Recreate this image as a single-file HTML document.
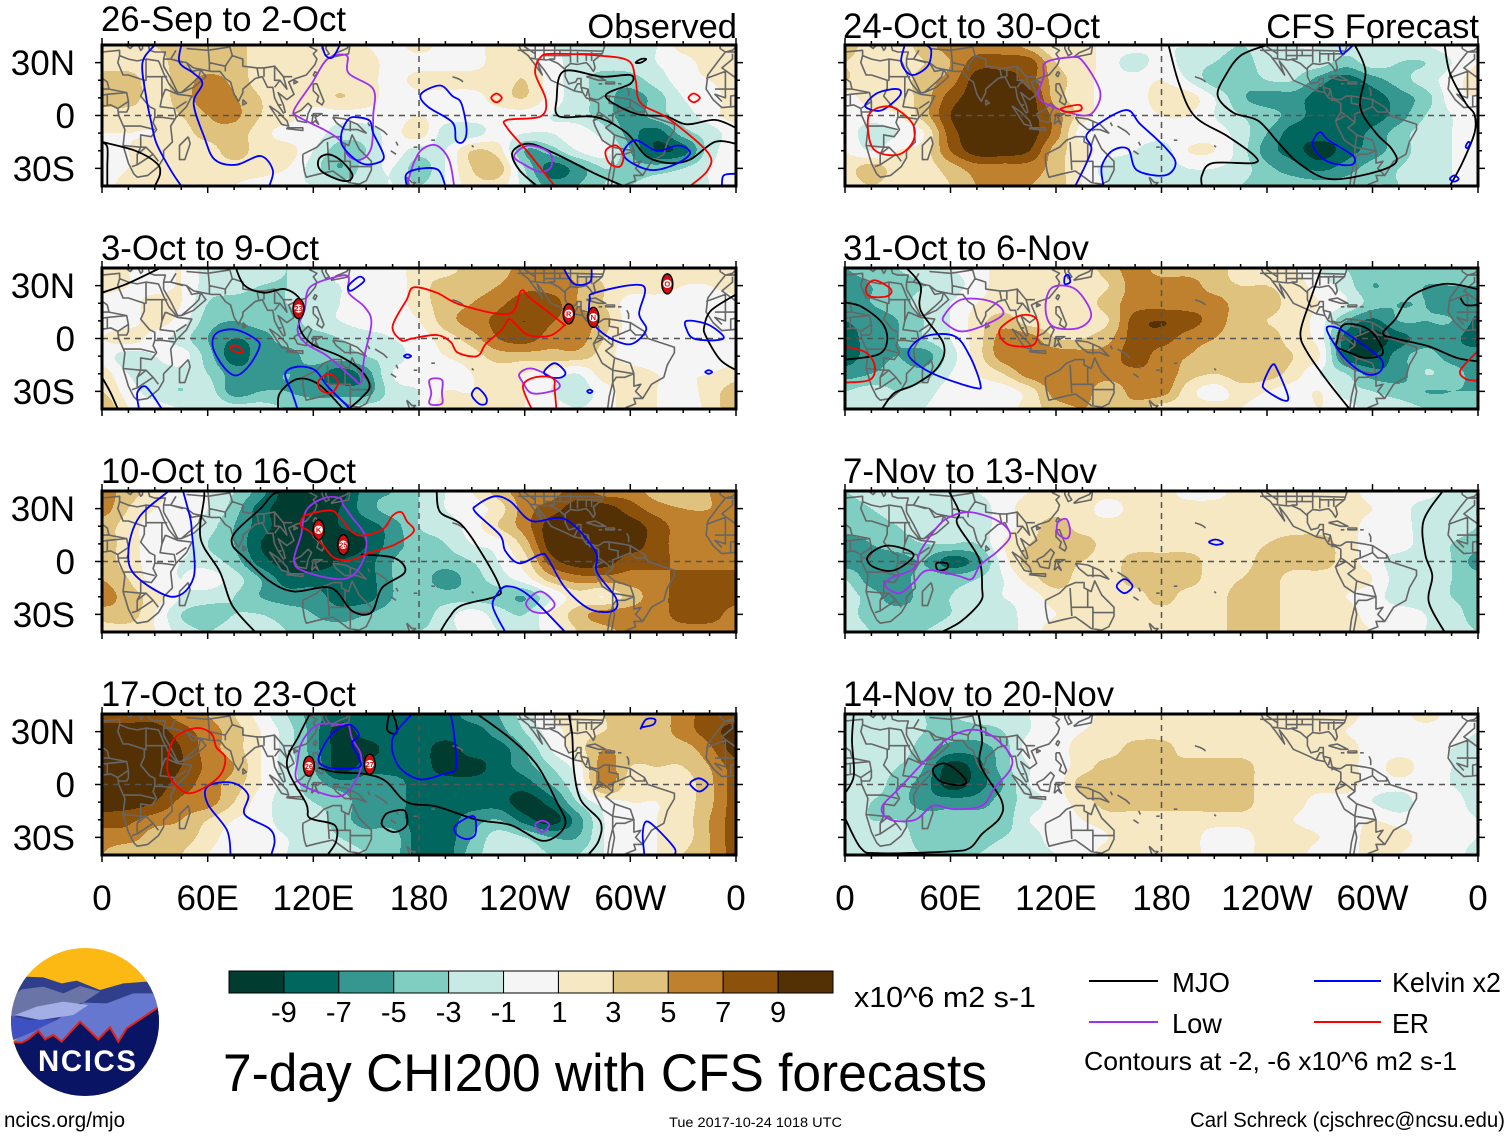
<!DOCTYPE html>
<html lang="en">
<head>
<meta charset="utf-8">
<title>7-day CHI200 with CFS forecasts</title>
<style>
html,body{margin:0;padding:0;background:#fff;}
svg{display:block;}
text{font-family:"Liberation Sans",sans-serif;fill:#000;}
</style>
</head>
<body>
<svg id="chart" xmlns="http://www.w3.org/2000/svg" width="1510" height="1137" viewBox="0 0 1510 1137">
  <g id="panels"></g>
  <g id="colorbar"></g>
  <g transform="translate(0,940) scale(0.3333)">
    <clipPath id="logoClip"><circle cx="255" cy="246" r="222"/></clipPath>
    <g clip-path="url(#logoClip)">
      <rect x="20" y="10" width="480" height="480" fill="#fdb913"/>
      <path d="M60,130 L75,110 L130,112 L185,130 L230,122 L300,150 L370,130 L440,125 L490,170 L490,260 L20,260 Z" fill="#2f3f8c"/>
      <path d="M20,180 L65,148 L130,140 L190,160 L240,138 L300,155 L250,188 L120,210 L20,235 Z" fill="#6a74a6"/>
      <path d="M250,188 L320,190 L400,160 L470,160 L490,310 L20,320 L60,290 L170,240 Z" fill="#6577cf"/>
      <path d="M45,225 L110,200 L190,185 L265,195 L220,225 L120,240 Z" fill="#a3aee6"/>
      <path d="M20,225 L90,240 L170,238 L100,275 L40,300 L20,300 Z" fill="#3f50c0"/>
      <path d="M20,305 L65,308 L85,298 L115,272 L135,298 L160,285 L185,305 L240,245 L295,298 L330,262 L355,305 L380,265 L470,205 L500,195 L500,490 L20,490 Z" fill="#0a1464" stroke="#e2231a" stroke-width="6"/>
    </g>
    <text x="114" y="393" font-size="88" font-weight="bold" textLength="294" lengthAdjust="spacing" style="fill:#fff">NCICS</text>
  </g>
  <text x="4" y="1127" font-size="21" textLength="121" lengthAdjust="spacingAndGlyphs">ncics.org/mjo</text>
  <text x="223" y="1091" font-size="53" textLength="764" lengthAdjust="spacingAndGlyphs">7-day CHI200 with CFS forecasts</text>
  <text x="854" y="1007" font-size="29" textLength="182" lengthAdjust="spacingAndGlyphs">x10^6 m2 s-1</text>
  <text x="669" y="1127" font-size="14" textLength="173" lengthAdjust="spacingAndGlyphs">Tue 2017-10-24 1018 UTC</text>
  <text x="1190" y="1127" font-size="21" textLength="315" lengthAdjust="spacingAndGlyphs">Carl Schreck (cjschrec@ncsu.edu)</text>
  <g>
    <line x1="1089" y1="981" x2="1158" y2="981" stroke="#000" stroke-width="2"/>
    <text x="1172" y="992" font-size="28" textLength="58" lengthAdjust="spacingAndGlyphs">MJO</text>
    <line x1="1314" y1="981" x2="1381" y2="981" stroke="#0000ff" stroke-width="2"/>
    <text x="1392" y="992" font-size="28" textLength="109" lengthAdjust="spacingAndGlyphs">Kelvin x2</text>
    <line x1="1089" y1="1022" x2="1158" y2="1022" stroke="#a030f0" stroke-width="2"/>
    <text x="1172" y="1033" font-size="28" textLength="50" lengthAdjust="spacingAndGlyphs">Low</text>
    <line x1="1314" y1="1022" x2="1381" y2="1022" stroke="#ff0000" stroke-width="2"/>
    <text x="1392" y="1033" font-size="28" textLength="37" lengthAdjust="spacingAndGlyphs">ER</text>
    <text x="1084" y="1070" font-size="26" textLength="373" lengthAdjust="spacingAndGlyphs">Contours at -2, -6 x10^6 m2 s-1</text>
  </g>
</svg>
<script>
/* ---------- scales and labels ---------- */
const bandColors = ['#003c30','#01665e','#35978f','#80cdc1','#c7eae5','#f5f5f5','#f6e8c3','#dfc27d','#bf812d','#8c510a','#543005'];
const colorbarTicks = ['-9','-7','-5','-3','-1','1','3','5','7','9'];
const lonTickValues = [0,60,120,180,240,300,360];
const lonTickLabels = ['0','60E','120E','180','120W','60W','0'];
const latTickValues = [30,0,-30];
const latTickLabels = ['30N','0','30S'];

/* ---------- CHI200 anomaly, rows 40N..40S every 10 deg, columns 0..360 every 15 deg ---------- */
const panel1Values = [
[2,2,3,4,4,4,2,2,2,2,1,0,2,0,0,2,1,-1,-1,-1,-2,-1,2,2,2],
[2,2,2,4,4,4,2,2,2,2,2,0,0,0,0,2,2,0,-2,-2,-2,-1,0,2,2],
[4,4,2,4,5.5,4.5,2,2,2,2,2,0,2,2,2,2,3,0,-2,-4,-4,-2,0,1,2],
[4,4,2,4,6,5.2,3,2,2,3,2,0,0,0,0,2,3,0,-2,-4,-6,-4,-1,0,2],
[2,2,2,3,5,5.5,3,2,0,0,0,0,1,0,0,0,0,-1,-2,-4,-6,-4,-2,0,2],
[1,1,1,2,4,4,2,0,0,-2,-2,0,2,-2,-2,0,-1,-1,0,-2,-6,-8,-4,-2,0],
[0,1,2,2,2,4,2,2,-1,-4,-3,0,-2,-1,3,2,-5,-4,-1,0,-5,-9,-8,-2,0],
[0,1,2,2,2,2,2,1,-2,-5,-2,-1,-4,-1,3,4,-3,-8,-6,-3,-4,-4,-3,-1,0],
[0,2,2,1,1,1,0,-1,-1,-2,-2,-1,-3,-1,2,2,-2,-6,-5,-3,-3,-2,-2,-1,0]];
const panel2Values = [
[3,1,0,1,-2,-2,-2,-3,-2,0,0,0,2,2,4,4,6,6,4,2,2,2,2,2,3],
[2,1,0,1,-2,-2,-3,-3,-2,-1,0,0,2,4,4,5,6.5,6,5,3,2,2,1,1,2],
[0,0,2,1,-3,-4,-4,-3,-2,-1,0,0,2,4,5,6.5,8,8,5,3,0,0,0,0,0],
[0,0,2,0,-4,-5,-4,-4,-2,-1,0,0,1,4,6,7.5,9,7.2,6,4,0,0,0,0,0],
[1,2,0,-2,-5,-7,-6,-4,-4,-3,-2,-1,0,2,4,7,8,6,6,3,0,0,0,0,0],
[0,-2,-1,0,-4,-8,-6,-6,-4,-4,-3,-2,0,1,2,4,4,4,4,2,0,0,0,0,0],
[2,-1,-2,-2,-3,-6,-6,-5,-6,-8,-6,-1,0,0,1,2,1,0,-1,2,2,1,1,1,2],
[3,0,-2,-3,-2,-6,-5,-5,-6,-6,-6,-2,-1,1,1,3,1,-1,-2,0,2,1,0,2,4],
[5,1,0,-1,-1,-2,-2,-3,-3,-3,-2,-2,-1,2,2,2,1,0,-1,0,2,1,-1,2,4]];
const panel3Values = [
[6,4,2,0,-1,-3,-6,-10,-10,-10,-6,-5,-3,-1,1,4,6,6,8,6,6,4,3,5,6],
[6,3,1,0,-1,-4,-8,-10,-10,-9,-6,-4,-3,-1,0,2,6,8,10,10,8,6,5,5,6],
[4,2,0,0,-2,-5,-8,-10,-10,-9,-8,-6,-3,-2,0,3,6,10,10,10,10,8,6,6,6],
[4,2,0,0,-3,-5,-9,-10,-10,-10,-9,-6,-4,-3,-1,0,4,10,10,10,10,8,6,6,6],
[4,2,0,-1,-2,-4,-8,-10,-10,-9,-8,-5,-4,-4,-3,-1,2,8,10,10,8,8,6,6,6],
[5,3,0,-1,0,-2,-5,-8,-8,-8,-8,-5,-4,-6,-4,-2,0,4,6,6,6,6,8,8,8],
[6,4,2,-1,-2,-3,-5,-6,-6,-8,-8,-5,-4,-4,-4,-4,-5,-1,2,1,4,6,8,8,8],
[4,4,1,-3,-4,-3,-3,-4,-5,-6,-5,-4,-4,-2,0,-2,-3,1,4,6,6,6,8,8,6],
[2,2,1,-2,-3,-2,-2,-3,-4,-4,-4,-3,-3,-2,0,-1,-2,0,3,4,6,6,6,6,6]];
const panel4Values = [
[8,8,8,6,5,3,0,-3,-6,-8,-8,-8,-8,-8,-6,-5,-2,1,2,3,4,4,6,8,8],
[10,10,10,8,6,4,1,-2,-6,-10,-8,-8,-8,-8,-8,-6,-3,0,2,3,4,4,6,8,10],
[10,10,10,9,6,4,1,-2,-6,-10,-10,-8,-8,-10,-8,-8,-5,-1,2,5,4,4,4,6.5,10],
[10,10,10,9,6.5,5,1,-2,-5,-10,-8,-8,-8,-10,-10,-8,-6,-3,0,6,3,3,3,5,8],
[10,10,10,8,6,4,1,-2,-4,-6,-6,-6,-8,-8,-8,-8,-8,-5,-1,6,2,2,2,4.5,8],
[10,10,9,6.5,6,3,0,-2,-3,-4,-6,-6,-8,-8,-8,-8,-10,-8,-3,0,1,1,2,4.5,8],
[8,7.5,6,5,3,1,0,-2,-2,-4,-6,-6,-8,-8,-6,-5,-8,-10,-6,-1,0,1,2,5,8],
[6,6,4,4,2,0,0,-1,-2,-3,-4,-4,-8,-8,-5,-2,-3,-5,-5,-1,0,1,2,5,8],
[5,3,4,3,1,0,0,-1,-2,-2,-3,-4,-8,-8,-4,-2,-2,-3,-3,-1,0,1,3,5,8]];
const panel5Values = [
[4,2,2,4,6,6,6,4,1,2,0,0,-1,-1,-2,-3,-2,-1,-1,-2,-2,-2,-1,0,1],
[3,2,2,3,5,8,8,8,3,2,0,-2,0,-2,-3,-4,-2,-2,-2,-4,-2,-3,-3,-1,1],
[3,2,2,4,6,10,10,8,4,2,0,0,1,-1,-4,-4.5,-3,-3,-6,-8,-6,-4,-2,0,2],
[0,2,2,4,8,10,10,10,4,2,0,0,2,2,-1,-4.5,-6,-6,-8,-8,-8,-6,-4,0,1],
[0,0,1,4,9,10,10,10,6,2,0,0,1,1,-1,-3,-4,-6,-8,-8,-8,-6,-3,-1,0],
[0,-2,-1,1,8,10,10,10,6,0,0,0,0,0,0,-2,-5,-8,-8,-8,-6.5,-4,-2,-1,0],
[1,-1,1,2,7,10,10,9,4,2,0,-1,-2,1,1,-2,-6,-8,-10,-8,-6,-4,-2,-1,0],
[2,4,2,2,4,6,6,6,4,1,-2,-2,-2,-1,-1,-2,-4.5,-6,-7.5,-6,-4,-3,-2,-1,0],
[2,3,2,2,3,5,5,5,4,1,-1,-2,-2,-2,-2,-3,-4,-4,-4,-4,-3,-3,-2,-1,-1]];
const panel6Values = [
[-5,-4,-3,-2,-1,0,2,2,2,2,4,6,4,4,4,2,2,1,-1,-3,-4,-4,-4,-4,-5],
[-6,-5,-4,-3,-2,0,2,2,2,2,3,6,6,6,4,3,3,2,0,-2,-5,-4,-5,-5,-5],
[-6,-5,-4,-2,-1,1,2,2,2,2,4,6,6,6,6,4,4,2,1,-1,-4,-5,-5,-6,-6],
[-7,-6,-5,-3,-1,2,4,2,2,2,3,8,9,8,6,4,3,2,0,-5,-7.5,-5,-5,-5,-7.5],
[-8,-6,-5,-3,-1,2,6,6,3,3,4.5,8,8,6,5,4,4,2,0,-8,-10,-8,-6,-6.5,-8],
[-8,-6,-5,-6,-2,2,6,6.5,6.5,6,6,8,6,5,4,4,4,3,1,-8,-9,-6,-4,-6,-6],
[-6,-5,-4,-4,-1,1,3,6,6.5,6,6,6.5,6.5,4,3,4,4,2,-1,-3,-6,-6,-3,-4,-6],
[-3,-2,-3,-2,0,0,0,2,6,6,3.5,6,6,2,0,2,1,0,1,-2,-3,-4,-5,-5,-5],
[-2,-1,-2,-1,0,0,0,2,4,5,4,4,2,2,2,1,0,0,1,0,-2,-2,-3,-4,-4]];
const panel7Values = [
[-3,-2,-2,-2,-2,-1,0,1,2,2,2,2,2,0,0,2,2,2,2,2,0,0,0,-2,-2],
[-4,-3,-2,-2,-2,-2,0,2,2,2,0,2,2,2,2,2,2,2,2,2,1,0,-2,-2,-3],
[-4,-4,-3,-2,-2,-2,0,2,4,2,2,2,2,2,2,2,2,2,2,2,0,0,-2,-2,-3],
[-6,-5,-4,-3,-3,-3,1,3,4,4,2,2,2,2,2,2,3,4,4,2,0,0,-2,-3,-4],
[-6,-6,-6,-5,-8,-6,0,4,4,3,2,4,4,4,2,2,4,4,4,2,0,-2,-2,-3,-6],
[-3,-6,-6,-4,-4,-3,-1,2,4,2,2,4,4,4,2,3,4,2,2,2,1,-2,-2,-3,-4],
[-2,-4,-6,-4,-3,-2,-1,0,2,2,2,2,4,2,2,4,4,2,2,1,0,-2,-2,-3,-4],
[-2,-4,-4,-4,-3,-2,-2,0,1,2,2,2,2,2,2,4,4,2,2,2,0,0,-1,-2,-4],
[-1,-3,-3,-3,-2,-2,-2,0,2,2,2,2,2,2,2,4,4,2,2,2,1,0,-1,-2,-3]];
const panel8Values = [
[-2,-2,-2,-3,-3,-2,-2,-1,0,0,2,2,2,2,2,2,2,2,2,2,0,0,2,0,-1],
[-2,-2,-2,-3,-4,-4,-3,-1,0,1,2,2,2,2,2,2,2,2,2,1,0,0,0,0,-1],
[-2,-2,-2,-4,-6,-6,-4,0,0,2,2,4,4,2,2,2,2,2,2,2,0,0,0,-1,-2],
[-2,-2,-3,-5,-10,-8,-4,-1,0,2,4,4,3,4,4,4,2,2,2,2,0,2,0,-1,-2],
[-2,-2,-4,-6,-10,-8,-5,-1,0,4,4,4,4,4,4,4,2,2,2,2,0,0,0,-1,-2],
[-2,-3,-4,-6,-6,-6,-4,-2,0,2,4,4,4,4,4,4,2,2,0,0,-1,-2,0,0,-2],
[-2,-3,-3,-4,-4,-4,-4,-1,0,1,2,2,2,2,2,2,2,1,0,0,1,0,0,0,-1],
[-2,-2,-2,-4,-4,-4,-3,-2,0,0,1,2,2,2,0,0,2,2,1,0,2,2,0,0,-1],
[-2,-1,-2,-3,-3,-3,-2,-2,-1,0,2,2,2,2,0,0,2,2,0,0,2,1,0,0,-2]];

/* ---------- contours, [lon,lat] ---------- */
const panel1Mjo = [
[[0,-15],[19,-20],[31,-27],[33,-33],[30,-40]],
[[3,-40],[3,-29],[3,-18],[0,-15]],
[[123,-25],[128,-22],[135,-25],[142,-33],[140,-37],[133,-36],[124,-31]],
[[360,-7],[348,-2.5],[332,-5],[320,-0.5],[303,1],[286,11],[300,18],[300,23],[284,22],[262,25],[258,8],[258,1],[263,-1],[281,-1],[298,-10],[309,-23],[322,-27],[334,-25],[348,-15],[360,-16]],
[[296,-40],[280,-33],[256,-21],[242,-16],[233,-21],[237,-31],[247,-40]],
[[303,30],[306,32],[309,32],[306,30]]];
const panel1Low = [
[[139,34],[140,24],[154,15],[154,0],[153,-18],[147,-25],[140,-23],[135,-14],[126,-8],[112,-1],[109,3],[119,18],[128,32]],
[[173,-40],[177,-27],[182,-19],[190,-17],[197,-25],[200,-40]],
[[234,-23],[242,-17],[254,-21],[255,-29],[249,-32],[240,-28]]];
const panel1Kelvin = [
[[30,40],[23,30],[25,11],[28,-4],[31,-16],[39,-31],[45,-40]],
[[45,40],[44,30],[52,24],[57,18],[52,7],[58,-12],[64,-25],[76,-28],[90,-23],[97,-31],[95,-40]],
[[125,40],[127,34],[131,33],[135,40]],
[[145,-1],[152,-3],[154,-10],[160,-23],[156,-27],[147,-27],[137,-18],[136,-10],[140,-2]],
[[192,17],[181,12],[185,5],[199,-4],[201,-14],[205,-15],[207,-8],[204,7],[199,11]],
[[173,-40],[173,-33],[182,-30],[191,-31],[195,-40]],
[[296,-21],[303,-14],[315,-20],[327,-17],[334,-21],[327,-27],[313,-31],[301,-27]],
[[352,-40],[353,-34],[360,-33]]];
const panel1Er = [
[[221,10],[224,12.5],[227,10],[224,7.5]],
[[257,-40],[242,-21],[230,-7],[230,-2.5],[249,-0.5],[252,9],[246,24],[249,33],[256,35],[282,34],[299,31],[303,20],[306,7],[322,-2],[344,-21],[344,-31],[334,-40]],
[[333,10],[336,12.5],[339.5,10],[336,7.5]],
[[286,-20],[292,-17],[296,-23],[294,-29],[288,-27]]];

const panel2Mjo = [
[[0,26],[14,31],[33,40]],
[[76,40],[81,30],[92,26],[104,28],[113,21],[112,7],[119,-3],[135,-10],[147,-18],[152,-27],[147,-34],[140,-40]],
[[100,-40],[101,-31],[111,-23],[123,-26],[137,-40]],
[[0,-22],[5,-31],[9,-40]],
[[360,25],[346,16],[342,7],[343,1],[351,-12],[360,-18]]];
const panel2Low = [
[[140,35],[133,35],[118,29],[115,16],[111,5],[116,-3],[128,-10],[142,-22],[147,-25],[149,-10],[153,9],[149,18],[140,26]],
[[186,-23.5],[193,-23.5],[193,-31],[193,-37],[186,-37],[187,-31]],
[[237,-20],[244,-17],[256,-22.5],[260,-27],[255,-30],[244,-31],[239,-25]]];
const panel2Kelvin = [
[[140,30],[146,35],[149,33],[146,30],[141,27]],
[[76,5],[88,-1],[89,-6],[83,-16],[76,-21],[69,-16],[63,-5],[65,3]],
[[21,-40],[20,-31],[24,-27],[28,-31],[34,-40]],
[[141,-40],[128,-27],[121,-18],[111,-16],[104,-20],[108,-31],[111,-40]],
[[277,22],[280,26],[307,30],[305,14],[309,5],[301,-3],[291,-1],[282,5],[277,12]],
[[262,40],[268,31],[277,32],[278,40]],
[[332,10],[344,8],[353,1],[348,-1],[336,0],[332,5]],
[[171.5,-10],[173.5,-9],[175.5,-10],[173.5,-11]],
[[342.5,-19],[344.5,-18],[346.5,-19],[344.5,-20]],
[[275.5,-30],[277,-29],[278.5,-30],[277,-31]],
[[213,-28],[218,-33],[218,-37],[214,-37],[210,-32]],
[[251,-19],[257,-14],[263,-19],[261,-22],[255,-22]]];
const panel2Er = [
[[73.5,-4.5],[76,-4],[80,-7],[77,-8],[73,-6]],
[[129,-20],[134,-25],[130,-31],[124,-29],[123,-24]],
[[177,29],[190,26],[204,19],[231,14],[238,27],[243,23],[261,9],[262,7],[254,1.5],[242,2],[235,8],[231,11],[227,5],[218,-3],[213,-10],[202,-8],[198,-2],[190,2],[176,0],[170,-1],[165,7],[173,22]],
[[244,-40],[239,-27],[246,-22],[256,-22.5],[257,-29],[258,-40]]];
const panel2Storms = [[111.6,17,'23'],[265,14,'R'],[279,12,'N'],[321,31,'O']];

const panel3Mjo = [
[[58,40],[58,36],[56,13],[67,-6],[74,-25],[87,-40]],
[[104,40],[97,38],[90,30],[76,17],[74,9.5],[81,2],[95,-11],[109,-17],[130,-15],[142,-28],[153,-29],[159,-15],[172,-6],[166,2],[147,4]],
[[190,40],[192,28],[204,21],[216,4],[226,-15],[223,-20],[204,-25],[197,-32],[192,-40]]];
const panel3Low = [
[[135,36],[126,36],[116,29],[113,15],[109,0],[116,-6],[137,-10],[147,-2],[150,13],[142,25],[137,32]],
[[241,-23],[249,-17],[257,-24],[252,-29],[244,-28]]];
const panel3Kelvin = [
[[38,40],[21,25],[15,6],[19,-8],[40,-20],[52,-9],[51,17],[50,25],[46,40]],
[[229,-40],[222,-26],[224,-19],[230,-14],[242,-19],[263,-40]],
[[213,32],[223,37],[232,34],[244,23],[263,24],[280,6],[281,-6],[292,-21],[290,-28],[277,-27],[263,-15],[253,2],[249,4],[237,-1],[229,6],[226,15],[212,28]]];
const panel3Er = [
[[114,25],[118,27],[130,29],[135,25],[145,15],[159,18],[165,26],[170,28],[173,23],[177,17],[166,9.5],[152,5],[142,1],[132,2],[126,8.5],[118,17],[113,20]]];
const panel3Storms = [[123,18,'K'],[137,9.5,'25']];

const panel4Mjo = [
[[118,40],[112,28],[105,11],[116,-11],[118,-19],[132,-23],[133,-32],[128,-40]],
[[123,9.5],[133,7],[149,6],[161,2],[173,-10],[190,-12.5],[213,-20],[232,-23],[251,-32],[263,-23],[258,-9.5],[247,11],[232,26],[213,40]],
[[163,40],[162,31],[167,29],[167,35],[165,40]],
[[166,-15],[172,-15],[173,-23],[166,-27],[159,-23],[161,-17]],
[[265,40],[267,28],[268,8],[272,-9],[283,-21],[282,-32],[276,-40]]];
const panel4Low = [
[[137,34],[123,34],[114,25],[111,13],[111,2],[125,-5],[137,-6],[146,6],[147,17],[142,26],[140,34]],
[[246,-23],[250,-20.5],[254,-23],[250,-27]]];
const panel4Kelvin = [
[[96,-40],[98,-32],[95,-25],[81,-17],[83,-6],[74,1],[60,-1],[60,-11],[71,-26],[73,-40]],
[[140,34],[146,28],[142,23],[147,11],[138,9],[127,10],[123,15],[130,28]],
[[176,40],[165,26],[168,11],[180,3],[194,6],[201,9.5],[200,28],[198,40]],
[[201,-23],[211,-18],[212,-28],[207,-31],[201,-28]],
[[308,-40],[307,-28],[309,-21],[315,-25],[325,-36],[325,-40]],
[[334,0.5],[339,3.5],[344,0],[339,-4]],
[[306,32],[309,37],[314,37],[313,34],[307,32.5]]];
const panel4Er = [
[[53,32],[62,29],[65,21],[70,15],[66,4],[50,-5],[40,2],[37,11],[41,26]]];
const panel4Storms = [[117.5,10.4,'26'],[152,11.5,'27']];

const panel5Mjo = [
[[240,40],[225,34],[216,22],[212,11],[221,1.5],[235,-3],[247,-16],[258,-27],[275,-36],[298,-33],[313,-27],[311,-19],[302,-10],[293,5],[296,25],[290,40]],
[[184,40],[190,18],[199,-0.5],[218,-12],[233,-23],[232,-27],[209,-27],[203,-34],[203,-40]],
[[341,40],[344,24],[353,7],[358,0.5],[358,-10],[351,-27],[344,-40]]];
const panel5Low = [
[[114,30],[128,33],[135,31],[145,14],[142,3],[135,0],[118,5],[110,11],[113,22]]];
const panel5Kelvin = [
[[34,40],[32,30],[38,23],[47,28],[49,37],[46,40]],
[[12,7],[19,13],[30,15],[31,11],[21,3],[13,4]],
[[131,-40],[140,-20],[138,-10],[159,3],[168,-5],[182,-18],[188,-27],[182,-34],[166,-31],[161,-19],[152,-20],[146,-29],[147,-40]],
[[266,-16],[270,-9.5],[275,-14],[289,-23],[288,-28],[277,-27],[270,-23]],
[[281,40],[283,35],[289,40]],
[[353,-17.5],[354.5,-15],[355.5,-16],[354,-18.5]],
[[344,-36],[346.5,-34],[349,-36],[346.5,-37.5]]];
const panel5Er = [
[[14,1],[26,5],[38,-4],[39,-14],[31,-22],[19,-21],[14,-14]],
[[123,4],[133,6],[134,3],[126,2]]];

const panel6Mjo = [
[[0,20.5],[9.5,18],[21,9],[24,-1],[19,-9],[0,-12]],
[[35,40],[43,30],[43,16],[56,-3],[53,-16],[40,-26],[28,-31],[21,-40]],
[[271,40],[264,20],[259,3],[263,-8],[275,-25],[287,-40]],
[[280,-1],[284,8],[298,5],[306,-8],[296,-11],[287,-8],[280,-5]],
[[360,28],[341,31],[322,24],[313,11],[306,3],[313,0],[332,-4.5],[348,-11],[360,-13]],
[[350,23],[353,19],[360,19]]];
const panel6Low = [
[[56,12.5],[66,22],[83,21],[90,14],[78,7],[66,4],[58,8]],
[[114,18],[118,29],[131,28],[140,14],[133,6],[118,7]]];
const panel6Kelvin = [
[[36,-8],[45,1],[62,1.5],[71,-10],[77,-26],[74,-28],[55,-22],[43,-16]],
[[125,35],[127,36],[128,32],[125,31]],
[[238,-25],[243,-15],[246,-18],[252,-33],[249,-35],[239,-29]],
[[274,5],[280,6],[291,-1],[305,-12],[304,-19],[296,-20],[284,-11]]];
const panel6Er = [
[[12,29],[17,33],[26,28],[24,24],[14,24]],
[[0,-4.5],[12,-8],[17,-16],[14,-23.5],[0,-25]],
[[88,5],[99.5,13],[109,11],[109,-1],[104,-4.5],[92,-3]],
[[360,-7],[350,-18],[353,-23],[360,-24]]];

const panel7Mjo = [
[[59,40],[65,28],[64,21],[76,2],[78,-15],[77,-23],[66,-34],[55,-40]],
[[13,3],[24,9],[39,4],[28,-5],[16,-3]],
[[52,-1],[58,-1],[58,-4],[53,-5]],
[[340,40],[329,23],[330,4],[334,-8],[332,-23],[341,-40]]];
const panel7Low = [
[[59,25],[71,28],[87,23],[94,15],[87,6],[77,-2],[72,-10],[64,-8],[47,-5],[39,-12],[31,-18],[23,-14],[26,-9.5],[39,-4],[43,6],[52,19]],
[[121,22],[126,24],[128,17],[126,13],[121,16]]];
const panel7Kelvin = [
[[154.5,-14],[159,-10],[163.5,-14],[159,-18]],
[[207,11],[211,12.5],[215,10.5],[211,9.5]]];

const panel8Mjo = [
[[76,40],[78,25],[77,11],[89,-9],[88,-19],[78,-28],[71,-36],[59,-38],[19,-39],[9,-36],[0,-19]],
[[5,40],[4,25],[5,5],[0,-5]],
[[50,8.5],[56,12],[63,8.5],[69,2],[65,-0.5],[54,2]]];
const panel8Low = [
[[71,31],[83,28],[94,17],[94,8.5],[85,-2],[78,-12],[62,-14],[50,-12],[40,-20],[26,-20],[21,-13],[31,-2],[45,13],[57,25]]];
const panel8Kelvin = [];

/* ---------- base map, [lon,lat] ---------- */
const coastlines = [
[[-6,36],[-10,31],[-16,23],[-17,15],[-13,9],[-8,4.5],[-2,5],[5,6],[9,4],[9.5,0],[13,-8],[12,-17],[15,-27],[18,-33],[20,-35],[26,-34],[32,-29],[35,-24],[35,-20],[40,-15],[39,-6],[42,-1],[48,5],[51,11],[43,12],[38,18],[35,24],[33,29],[32,31],[25,32],[20,31],[15,32],[10,34],[10,37],[0,36],[-6,36]],
[[35,28],[39,21],[43,13],[45,13],[52,16],[59,22],[56,26],[51,25],[48,30],[52,27],[57,26],[62,25],[67,25],[70,21],[73,19],[75,12],[77.5,8],[80,13],[80,15],[87,21],[91,22],[94,16],[97,16],[98,10],[100,6],[103,1.5],[104,2],[103,6],[100,13],[105,9],[109,12],[106,19],[110,21],[116,23],[121,29],[122,32],[120,35],[122,37],[118,39],[122,41]],
[[125,41],[125,38],[127,34],[129,35],[127,38],[128,41]],
[[35,28],[35,32],[36,36],[30,36],[27,37],[26,41]],
[[-9,41],[-9,38],[-6,36],[-2,37],[0,39],[3,42]],
[[12,41],[16,38],[18,40],[20,41]],[[23,41],[23,38],[22,37],[20,41]],
[[49,-12],[50,-16],[47,-25],[44,-25],[44,-17],[49,-12]],
[[95,5.5],[100,2],[105,-3],[106,-6],[102,-5],[98,1],[95,5.5]],
[[109,1],[113,3],[117,7],[119,5],[117,1],[116,-4],[111,-3],[109,1]],
[[105,-7],[114,-7],[114,-8.5],[105,-7.5],[105,-7]],
[[119,-5],[120,1],[125,1],[121,-1],[123,-5],[121,-3],[119,-5]],
[[131,-1],[138,-2],[145,-5],[150,-10],[145,-8],[138,-8],[133,-4],[131,-1]],
[[120,18],[122,18],[124,13],[126,8],[125,6],[122,8],[123,11],[120,14],[120,18]],
[[121,25],[120,23],[121,22],[122,24],[121,25]],
[[130,33],[135,34],[140,35],[141,41],[139,38],[133,35.5],[130,33]],
[[80,9],[82,7],[80,6],[80,9]],
[[109,20],[111,19],[109,18],[109,20]],
[[114,-22],[122,-18],[126,-14],[131,-12],[136,-12],[136,-15],[140,-17],[142,-11],[146,-19],[153,-26],[153,-31],[150,-37],[146,-39],[140,-38],[136,-35],[131,-31.5],[124,-33],[116,-35],[115,-32],[114,-26],[114,-22]],
[[173,-35],[176,-38],[178,-38],[175,-41],[173,-35]],
[[155,-6],[160,-9],[162,-11]],[[164,-20],[167,-22]],[[167,-15],[168,-17]],[[177,-18],[179,-18]],[[151,-4],[152,-6]],
[[199,22],[202,21],[204,20],[205,19]],[[187,-14],[189,-14]],[[210,-17],[211,-18]],
[[-124,41],[-122,37],[-118,34],[-117,32.5],[-115,30],[-110,23],[-112,28],[-113,31],[-109,26],[-105,20],[-96,16],[-92,14],[-87,13],[-85,10],[-80,8],[-78,7],[-78,2],[-81,-3],[-80,-6],[-76,-14],[-70,-18],[-70,-25],[-72,-33],[-73,-41]],
[[-65,-41],[-62,-39],[-57,-37],[-58,-34],[-53,-34],[-48,-26],[-41,-22],[-39,-15],[-35,-8],[-35,-5],[-44,-2],[-50,0],[-52,4],[-60,9],[-65,10],[-72,11],[-75,11],[-78,9],[-80,9],[-83,10],[-84,15],[-88,16],[-88,21],[-90,21],[-91,19],[-95,18],[-97,22],[-97,27],[-94,29.5],[-90,29],[-85,30],[-83,28],[-81,25],[-80,27],[-81,31],[-76,35],[-75,38],[-74,41]],
[[-85,22],[-80,23],[-74,20],[-78,20],[-85,22]],[[-74,19],[-69,19],[-69,18],[-74,18],[-74,19]],[[-78,18],[-76,18]],[[-67,18],[-65,18]],[[-62,16],[-61,14],[-61,11]]];
const borders = [
[[25,32],[25,20],[24,20],[24,15.5],[22,11],[27,5],[30,3.5],[30,-1],[29,-4],[31,-8],[28,-12],[22,-11],[22,-18],[25,-18],[29,-22],[32,-26]],
[[10,34],[9,30],[12,23],[15,23],[24,20]],
[[-2,35],[-2,32],[-8,27],[3,19],[4,15],[14,13],[15,8],[15,4],[14,2],[9.5,2]],
[[25,22],[37,22]],[[34,22],[34,10],[36,15]],[[34,10],[33,5],[41,4],[42,-1]],[[34,-1],[41,-2]],[[34,-1],[30,-1]],
[[48,8],[42,4]],[[43,12],[36,15]],
[[12,-6],[22,-6],[30,-8]],[[12,-17],[22,-18],[20,-22],[20,-28],[17,-29]],[[25,-18],[20,-22]],[[20,-28],[29,-22]],
[[3,6],[3,12],[-3,11],[-3,5]],[[-8,8],[-12,12],[-6,10],[-6,25]],[[14,13],[3,12]],[[15,8],[9,4]],[[-17,21],[-6,25]],[[4,15],[-5,15],[-12,15]],
[[35,32],[39,32],[48,30]],[[39,32],[46,30]],[[45,13],[52,19],[55,22],[56,26]],[[39,32],[42,37]],
[[60,41],[61,30],[61,25]],[[61,30],[70,28],[70,25]],[[70,28],[74,34],[72,41]],[[48,38],[60,37],[73,39]],
[[74,34],[80,32],[80,28],[88,27],[92,27],[98,28],[98,20],[101,20],[105,15],[103,22],[108,22]],[[88,27],[89,22]],[[92,27],[92,22]],[[98,28],[103,22]],[[98,16],[101,20]],[[100,6],[102,6]],
[[141,-3],[141,-9]],[[128,-15],[129,-31]],[[138,-16],[138,-26],[141,-26],[141,-38]],[[129,-26],[138,-26]],[[141,-29],[153,-29]],
[[-117,32.5],[-108,31.5],[-106,31.8],[-101,29.5],[-97,26]],[[-124,37],[-94,37],[-75,36.5]],[[-120,41],[-120,39],[-114,35]],[[-114,41],[-114,32]],[[-109,41],[-109,31.5]],[[-103,41],[-103,32],[-106,32]],[[-100,37],[-100,34],[-94,34]],[[-94,41],[-94,30]],[[-90,37],[-90,30]],[[-85,35],[-85,31]],[[-90,35],[-76,35]],[[-82,37],[-82,31]],[[-109,34],[-94,34]],[[-124,41],[-74,40]],
[[-92,14],[-90,18],[-88,18]],[[-88,16],[-87,13]],[[-84,15],[-85,11]],[[-83,10],[-83,8]],
[[-70,-18],[-58,-20],[-58,-27],[-54,-26],[-57,-30],[-53,-34]],[[-70,-18],[-69,-11],[-74,-7],[-70,-4],[-70,1],[-67,2],[-60,5],[-60,9]],[[-78,2],[-75,0],[-70,-4]],[[-72,11],[-72,7],[-67,6],[-67,2]],[[-70,-25],[-68,-22],[-63,-22],[-58,-20]],[[-71,-41],[-69,-30],[-70,-25]],[[-81,-3],[-75,0]],[[-60,5],[-57,2],[-52,2],[-52,4]],[[-69,-11],[-60,-14],[-58,-20]]];

/* ---------- panel definitions ---------- */
const panelTitles = ['26-Sep to 2-Oct','3-Oct to 9-Oct','10-Oct to 16-Oct','17-Oct to 23-Oct','24-Oct to 30-Oct','31-Oct to 6-Nov','7-Nov to 13-Nov','14-Nov to 20-Nov'];
const titleWidths = [245,218,255,255,257,246,254,271];
const panelValues = [panel1Values,panel2Values,panel3Values,panel4Values,panel5Values,panel6Values,panel7Values,panel8Values];
const panelMjo = [panel1Mjo,panel2Mjo,panel3Mjo,panel4Mjo,panel5Mjo,panel6Mjo,panel7Mjo,panel8Mjo];
const panelLow = [panel1Low,panel2Low,panel3Low,panel4Low,panel5Low,panel6Low,panel7Low,panel8Low];
const panelKelvin = [panel1Kelvin,panel2Kelvin,panel3Kelvin,panel4Kelvin,panel5Kelvin,panel6Kelvin,panel7Kelvin,panel8Kelvin];
const panelEr = [panel1Er,panel2Er,panel3Er,panel4Er,panel5Er,panel6Er,[],[]];
const panelStorms = [[],panel2Storms,panel3Storms,panel4Storms,[],[],[],[]];

const NS = 'http://www.w3.org/2000/svg';
function mk(parent, tag, attrs){
  const e = document.createElementNS(NS, tag);
  for (const k in attrs) e.setAttribute(k, attrs[k]);
  parent.appendChild(e);
  return e;
}
function cr(a,b,c,d,t){
  return 0.5*((2*b)+(c-a)*t+(2*a-5*b+4*c-d)*t*t+(3*b-a-3*c+d)*t*t*t);
}
function sampleGrid(g, lon, lat){
  const nr = g.length, nc = g[0].length;
  const fx = Math.min(lon/15, nc-1.0001), fy = Math.min((40-lat)/10, nr-1.0001);
  const ix = Math.floor(fx), iy = Math.floor(fy), tx = fx-ix, ty = fy-iy;
  const rowAt = r => {
    const row = g[Math.max(0,Math.min(nr-1,r))];
    const at = c => row[Math.max(0,Math.min(nc-1,c))];
    return cr(at(ix-1),at(ix),at(ix+1),at(ix+2),tx);
  };
  return cr(rowAt(iy-1),rowAt(iy),rowAt(iy+1),rowAt(iy+2),ty);
}
function bandIndex(v){
  return Math.max(0,Math.min(10,Math.floor((v+11)/2)));
}
function smoothPath(pts, closed){
  const n = pts.length;
  const at = i => closed ? pts[(i+n)%n] : pts[Math.max(0,Math.min(n-1,i))];
  let d = 'M'+pts[0][0].toFixed(1)+','+pts[0][1].toFixed(1);
  const segs = closed ? n : n-1;
  for (let i=0;i<segs;i++){
    const p0=at(i-1),p1=at(i),p2=at(i+1),p3=at(i+2);
    d += 'C'+(p1[0]+(p2[0]-p0[0])/6).toFixed(1)+','+(p1[1]+(p2[1]-p0[1])/6).toFixed(1)+' '+
         (p2[0]-(p3[0]-p1[0])/6).toFixed(1)+','+(p2[1]-(p3[1]-p1[1])/6).toFixed(1)+' '+
         p2[0].toFixed(1)+','+p2[1].toFixed(1);
  }
  return closed ? d+'Z' : d;
}
function onBoundary(p){
  return Math.abs(p[1])>=38 || p[0]<=1 || p[0]>=359;
}

const root = document.getElementById('panels');
panelTitles.forEach(function(title, idx){
  const isRight = idx >= 4;
  const rowIndex = idx % 4;
  const x0 = isRight ? 845 : 102;
  const y0 = [45,268,491,714][rowIndex];
  const W = isRight ? 633 : 634;
  const H = 141;
  const xOf = lon => x0 + lon * W / 360;
  const yOf = lat => y0 + (40 - lat) * H / 80;

  const g = mk(root,'g',{});
  
  

  const clip = mk(g,'clipPath',{id:'clip'+idx});
  mk(clip,'rect',{x:x0,y:y0,width:W,height:H});
  const body = mk(g,'g',{'clip-path':'url(#clip'+idx+')'});

  /* filled bands */
  const grid = panelValues[idx];
  const paths = bandColors.map(()=>[]);
  for (let py=0; py<H; py++){
    const lat = 40 - (py+0.5)*80/H;
    let start = 0, cur = -1;
    for (let px=0; px<=W; px++){
      const b = px<W ? bandIndex(sampleGrid(grid,(px+0.5)*360/W,lat)) : -2;
      if (b !== cur){
        if (cur >= 0) paths[cur].push('M'+(x0+start)+','+(y0+py)+'h'+(px-start)+'v1h'+(start-px)+'z');
        start = px; cur = b;
      }
    }
  }
  paths.forEach(function(parts, b){
    if (!parts.length) return;
    const band = mk(body,'path',{d:parts.join(''),fill:bandColors[b],'shape-rendering':'crispEdges'});
    
    
  });

  /* base map */
  const mapLines = coastlines.concat(borders);
  let mapD = '';
  [0,360].forEach(function(shift){
    mapLines.forEach(function(line){
      mapD += 'M' + line.map(p => xOf(p[0]+shift).toFixed(1)+','+yOf(p[1]).toFixed(1)).join('L');
    });
  });
  const map = mk(body,'path',{d:mapD,fill:'none',stroke:'#666','stroke-width':1.6,'stroke-linejoin':'round'});
  
  

  /* reference lines */
  const eq = mk(body,'line',{x1:x0,x2:x0+W,y1:yOf(0),y2:yOf(0),stroke:'#555','stroke-width':1.5,'stroke-dasharray':'6 5'});
  
  
  const dl = mk(body,'line',{x1:xOf(180),x2:xOf(180),y1:y0,y2:y0+H,stroke:'#555','stroke-width':1.5,'stroke-dasharray':'6 5'});
  
  

  /* contours */
  const groups = [[panelMjo[idx],'#000000','mjo-contour'],[panelLow[idx],'#a030f0','low-contour'],[panelKelvin[idx],'#0000ff','kelvin-contour'],[panelEr[idx],'#ff0000','er-contour']];
  groups.forEach(function(item){
    item[0].forEach(function(line){
      const pts = line.map(p => [xOf(p[0]), yOf(p[1])]);
      const closed = !(onBoundary(line[0]) || onBoundary(line[line.length-1]));
      const c = mk(body,'path',{d:smoothPath(pts,closed),fill:'none',stroke:item[1],'stroke-width':1.8});
      
      
    });
  });

  /* tropical cyclones */
  panelStorms[idx].forEach(function(s){
    const cx = xOf(s[0]), cy = yOf(s[1]);
    const tc = mk(body,'g',{});
    
    
    mk(tc,'ellipse',{cx:cx,cy:cy,rx:5.5,ry:10,fill:'#d01010',stroke:'#000','stroke-width':1.4});
    mk(tc,'circle',{cx:cx,cy:cy,r:4.2,fill:'#fff'});
    const t = mk(tc,'text',{x:cx,y:cy+2.6,'text-anchor':'middle','font-size':7.5,'font-weight':'bold',style:'fill:#d01010'});
    t.textContent = s[2];
  });

  /* frame */
  const frame = mk(g,'rect',{x:x0,y:y0,width:W,height:H,fill:'none',stroke:'#000','stroke-width':3});
  
  

  /* ticks */
  let tickD = '';
  for (let lon=0; lon<=360; lon+=15){
    const len = lon%60===0 ? 6 : 3, x = xOf(lon).toFixed(1);
    tickD += 'M'+x+','+y0+'v-'+(len+1)+'M'+x+','+(y0+H)+'v'+(len+1);
  }
  for (let lat=-30; lat<=30; lat+=10){
    const len = lat%30===0 ? 6 : 3, y = yOf(lat).toFixed(1);
    tickD += 'M'+x0+','+y+'h-'+(len+1)+'M'+(x0+W)+','+y+'h'+(len+1);
  }
  const ticks = mk(g,'path',{d:tickD,fill:'none',stroke:'#000','stroke-width':1.5});
  
  

  /* title */
  const baseline = idx===0 ? 31 : idx===4 ? 38 : y0-8;
  const tt = mk(g,'text',{x:x0-1-(isRight?1:0),y:baseline,'font-size':35,textLength:titleWidths[idx],lengthAdjust:'spacingAndGlyphs'});
  
  
  tt.textContent = title;

  /* latitude labels */
  if (!isRight){
    latTickValues.forEach(function(lat,i){
      const lab = mk(g,'text',{x:75,y:yOf(lat)+12.5,'font-size':35,'text-anchor':'end'});
      
      
      lab.textContent = latTickLabels[i];
    });
  }
  /* longitude labels */
  if (rowIndex===3){
    lonTickValues.forEach(function(lon,i){
      const lab = mk(g,'text',{x:xOf(lon),y:910,'font-size':35,'text-anchor':'middle'});
      
      
      lab.textContent = lonTickLabels[i];
    });
  }
});

/* corner labels */
const obs = mk(root,'text',{x:737,y:38,'font-size':34.5,'text-anchor':'end'});


obs.textContent = 'Observed';
const cfs = mk(root,'text',{x:1479,y:38,'font-size':34.5,'text-anchor':'end'});


cfs.textContent = 'CFS Forecast';

/* colorbar */
const cb = document.getElementById('colorbar');
const cbX = v => 229 + v * 604 / bandColors.length;
bandColors.forEach(function(col,i){
  const r = mk(cb,'rect',{x:cbX(i),y:971,width:604/bandColors.length,height:22,fill:col,stroke:'#000','stroke-width':1});
  
  
});
colorbarTicks.forEach(function(lbl,i){
  const t = mk(cb,'text',{x:cbX(i+1)+(i>=5&&i<6?1:0),y:1022,'font-size':29,'text-anchor':'middle'});
  
  
  t.textContent = lbl;
});
</script>
</body>
</html>
